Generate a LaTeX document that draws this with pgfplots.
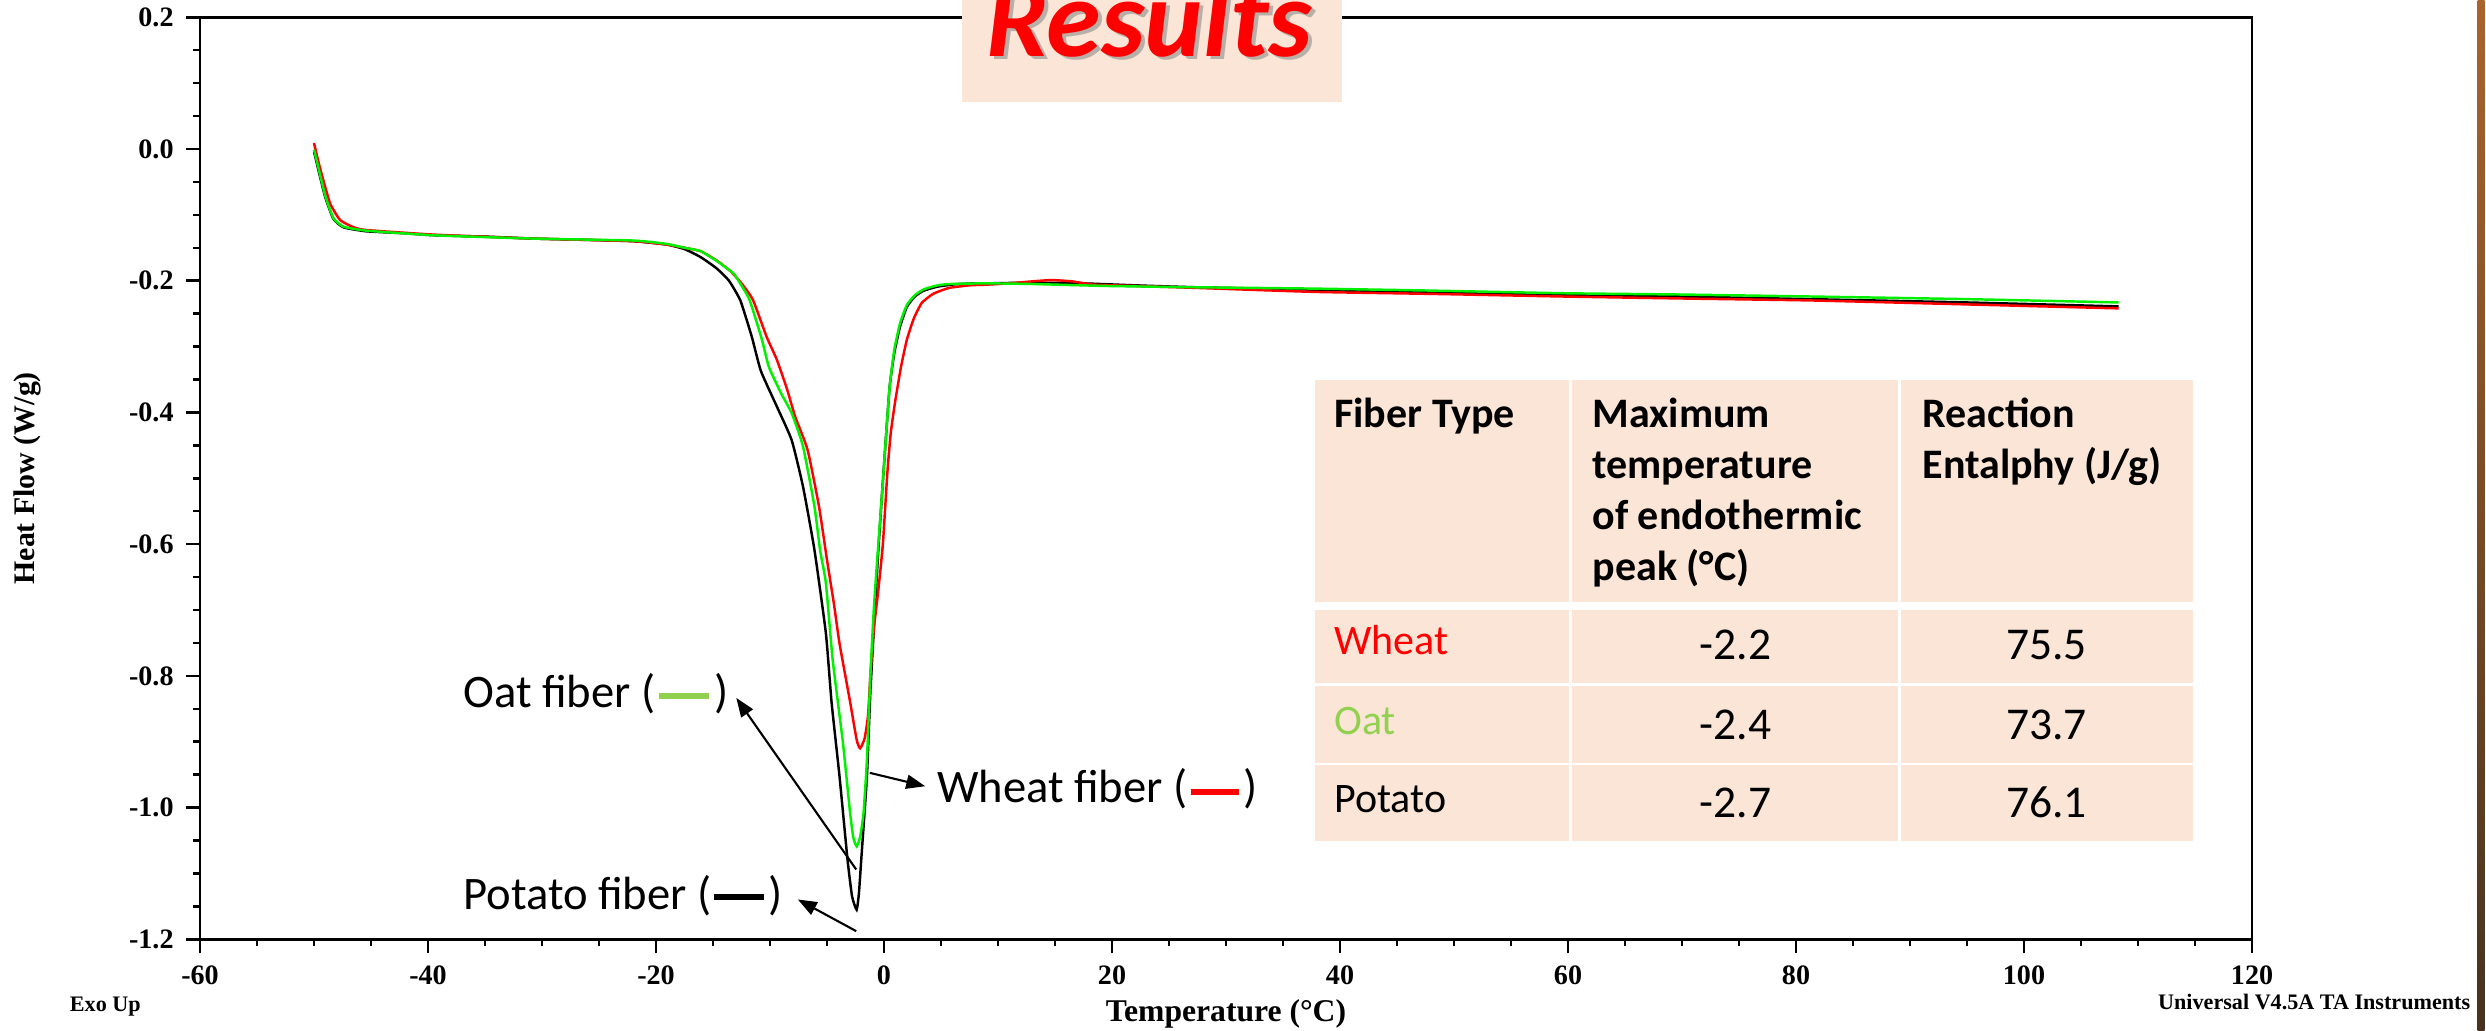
\documentclass[border=0pt]{standalone}
\usepackage{pgfplots}
\pgfplotsset{compat=1.18}
\usepackage{fontspec}
\setmainfont{Carlito}
\newfontfamily\axfont{Liberation Serif}
\usetikzlibrary{arrows.meta}
\definecolor{peach}{HTML}{FBE5D6}
\definecolor{oatg}{HTML}{92D050}
\definecolor{curveg}{HTML}{00F000}
\definecolor{curver}{HTML}{FF0000}
\begin{document}
\begin{tikzpicture}
\path[use as bounding box] (0,0) rectangle (24.86,10.31);
\begin{axis}[
  at={(2.00cm,0.917cm)}, anchor=south west,
  scale only axis, width=20.52cm, height=9.22cm,
  xmin=-60, xmax=120, ymin=-1.2, ymax=0.2,
  xtick={-60,-40,-20,0,20,40,60,80,100,120},
  xticklabels={-60,-40,-20,0,20,40,60,80,100,120},
  ytick={-1.2,-1,-0.8,-0.6,-0.4,-0.2,0,0.2},
  yticklabels={-1.2,-1.0,-0.8,-0.6,-0.4,-0.2,0.0,0.2},
  minor x tick num=3, minor y tick num=3,
  tick align=outside, tick pos=left,
  major tick length=0.14cm, minor tick length=0.07cm,
  axis line style={line width=0.7pt},
  every tick/.append style={black, line width=0.7pt},
  ticklabel style={font=\axfont\bfseries\fontsize{8}{9.5}\selectfont},
  xlabel={Temperature (°C)}, ylabel={Heat Flow (W/g)},
  xlabel style={font=\axfont\bfseries\fontsize{9}{11}\selectfont, at={(axis description cs:0.5,-0.0894)}, anchor=base},
  ylabel style={font=\axfont\bfseries\fontsize{8.5}{10}\selectfont, at={(axis description cs:-0.0843,0.5)}, anchor=center},
  clip=false,
]
% Potato fiber (black)
\addplot[black, line width=0.7pt, smooth, tension=0.3] coordinates {
(-50.0,-0.004) (-49.5,-0.040) (-49.0,-0.074) (-48.3,-0.106) (-47.4,-0.119) (-45.4,-0.125)
(-42,-0.128) (-39.5,-0.131) (-35,-0.133) (-30.8,-0.136) (-26,-0.138) (-22.0,-0.140)
(-19.1,-0.145) (-17.5,-0.152) (-16.1,-0.164) (-14.7,-0.181) (-13.6,-0.200) (-12.6,-0.230)
(-11.6,-0.285) (-10.8,-0.337) (-9.4,-0.391) (-8.1,-0.442) (-7.1,-0.513) (-6.1,-0.609)
(-5.1,-0.735) (-4.6,-0.840) (-3.9,-0.953) (-3.2,-1.079) (-2.8,-1.135) (-2.4,-1.155)
(-2.2,-1.130) (-2.0,-1.080) (-1.5,-0.953) (-1.2,-0.826) (-0.8,-0.700) (-0.5,-0.610)
(-0.2,-0.530) (0.2,-0.430) (0.5,-0.360) (0.9,-0.310) (1.4,-0.270) (2.0,-0.240)
(2.7,-0.224) (3.5,-0.215) (4.7,-0.209) (6.5,-0.205) (9,-0.204) (13,-0.203) (17.4,-0.204)
(22,-0.207) (27.5,-0.210) (36.2,-0.213) (45,-0.217) (59.6,-0.221) (70,-0.224)
(81.4,-0.228) (95,-0.233) (108.3,-0.239)
};
% Wheat fiber (red)
\addplot[curver, line width=0.7pt, smooth, tension=0.3] coordinates {
(-50.0,0.009) (-49.5,-0.027) (-48.6,-0.082) (-47.7,-0.108) (-46.5,-0.119) (-45.4,-0.123)
(-39.5,-0.130) (-30.8,-0.136) (-22.0,-0.140) (-19.1,-0.145) (-17.5,-0.150) (-16.1,-0.155)
(-14.7,-0.169) (-13.5,-0.185) (-12.5,-0.204) (-11.5,-0.229) (-10.3,-0.285) (-9.4,-0.320)
(-8.5,-0.365) (-7.8,-0.406) (-6.7,-0.457) (-5.7,-0.543) (-5.0,-0.624) (-4.4,-0.690)
(-3.9,-0.751) (-3.0,-0.837) (-2.4,-0.897) (-2.1,-0.910) (-1.7,-0.895) (-1.4,-0.860)
(-1.2,-0.800) (-0.9,-0.730) (-0.5,-0.670) (-0.1,-0.600) (0.3,-0.490) (0.6,-0.430)
(1.0,-0.381) (1.5,-0.330) (2.0,-0.290) (2.6,-0.258) (3.3,-0.234) (4.3,-0.220)
(5.7,-0.211) (7.5,-0.207) (9.0,-0.206) (11,-0.204) (13,-0.201) (14.7,-0.199)
(16.5,-0.201) (18.4,-0.206) (22,-0.208) (27.5,-0.211) (37.8,-0.217) (48,-0.220)
(59.6,-0.224) (70,-0.227) (81.4,-0.230) (95,-0.236) (108.3,-0.242)
};
% Oat fiber (green)
\addplot[curveg, line width=0.7pt, smooth, tension=0.3] coordinates {
(-50.0,-0.001) (-49.5,-0.037) (-49.0,-0.072) (-48.3,-0.105) (-47.4,-0.118) (-45.4,-0.124)
(-39.5,-0.131) (-30.8,-0.136) (-22.0,-0.139) (-19.1,-0.144) (-17.5,-0.150) (-16.1,-0.155)
(-14.5,-0.172) (-13.2,-0.189) (-12.8,-0.199) (-11.8,-0.229) (-10.7,-0.290) (-10.1,-0.331)
(-9.0,-0.372) (-8.1,-0.401) (-7.1,-0.452) (-6.1,-0.543) (-5.6,-0.610) (-5.1,-0.659)
(-4.5,-0.776) (-3.6,-0.902) (-3.0,-1.004) (-2.7,-1.045) (-2.4,-1.059) (-2.1,-1.045)
(-1.8,-1.009) (-1.5,-0.928) (-1.2,-0.801) (-0.9,-0.700) (-0.6,-0.624) (-0.2,-0.530)
(0.2,-0.430) (0.5,-0.360) (0.9,-0.305) (1.4,-0.265) (2.0,-0.237) (2.7,-0.222)
(3.5,-0.213) (4.7,-0.207) (5.8,-0.205) (9,-0.204) (13,-0.205) (19.6,-0.208)
(27.5,-0.210) (37.8,-0.212) (48,-0.215) (59.6,-0.219) (70,-0.221) (81.4,-0.224)
(95,-0.228) (108.3,-0.233)
};
\end{axis}
% ---- overlay in pixel units (origin top-left, y down) ----
\begin{scope}[x=0.01cm, y=-0.01cm, yshift=10.31cm]
  % right-edge photo strip
  \shade[top color={rgb,255:red,170;green,100;blue,45}, bottom color={rgb,255:red,70;green,50;blue,30}] (2479,0) rectangle (2486,1031);
  % title box
  \fill[peach] (962.3,-10) rectangle (1342.7,101.7);
  \node[anchor=base, text=black!45, opacity=0.6, font=\bfseries\itshape\fontsize{31.5}{36}\selectfont, inner sep=0] at (1154,60) {Results};
  \node[anchor=base, text=red, font=\bfseries\itshape\fontsize{31.5}{36}\selectfont, inner sep=0] at (1150,56.7) {Results};
  % annotations
  \node[anchor=base west, inner sep=0, font=\fontsize{13.26}{16}\selectfont] at (463,708)
     {Oat fiber (\kern0.03cm\textcolor{oatg}{\rule[0.09cm]{0.5cm}{0.055cm}}\kern0.06cm)};
  \node[anchor=base west, inner sep=0, font=\fontsize{13.26}{16}\selectfont] at (463,910)
     {Potato fiber (\kern0.02cm\textcolor{black}{\rule[0.09cm]{0.5cm}{0.06cm}}\kern0.05cm)};
  \node[anchor=base west, inner sep=0, font=\fontsize{13.26}{16}\selectfont] at (937,803)
     {Wheat fiber (\kern0.03cm\textcolor{curver}{\rule[0.08cm]{0.48cm}{0.06cm}}\kern0.05cm)};
  \draw[line width=0.6pt, -{Triangle[length=0.19cm,width=0.14cm]}] (856.7,870) -- (736.7,698.3);
  \draw[line width=0.6pt, -{Triangle[length=0.19cm,width=0.14cm]}] (856.7,931.7) -- (798.3,900);
  \draw[line width=0.6pt, -{Triangle[length=0.19cm,width=0.14cm]}] (870.3,773.3) -- (925.8,786.7);
  % table
  \fill[peach] (1316,380.7) rectangle (2194,841);
  \fill[white] (1570,380) rectangle (1573,842);
  \fill[white] (1899.5,380) rectangle (1902.5,842);
  \fill[white] (1315,602.3) rectangle (2195,610.7);
  \fill[white] (1315,683.5) rectangle (2195,686.5);
  \fill[white] (1315,763.5) rectangle (2195,765.8);
  \begin{scope}[every node/.style={inner sep=0, anchor=base west, font=\bfseries\fontsize{11.95}{14}\selectfont}]
    \node at (1334.4,428) {Fiber Type};
    \node at (1592.8,428) {Maximum};
    \node at (1592.8,479) {temperature};
    \node at (1592.8,530) {of endothermic};
    \node at (1592.8,581) {peak (°C)};
    \node at (1922.9,428) {Reaction};
    \node at (1922.9,479) {Entalphy (J/g)};
  \end{scope}
  \begin{scope}[every node/.style={inner sep=0, anchor=base west, font=\fontsize{11.95}{14}\selectfont}]
    \node[text=curver] at (1334.4,655) {Wheat};
    \node[text=oatg] at (1334.4,735) {Oat};
    \node at (1334.4,813.3) {Potato};
  \end{scope}
  \begin{scope}[every node/.style={inner sep=0, anchor=base, font=\fontsize{12.95}{15}\selectfont}]
    \node at (1736.5,660) {-2.2};
    \node at (1736.5,740) {-2.4};
    \node at (1736.5,818.3) {-2.7};
    \node at (2047.5,660) {75.5};
    \node at (2047.5,740) {73.7};
    \node at (2047.5,818.3) {76.1};
  \end{scope}
  % instrument footer texts
  \node[anchor=base west, inner sep=0, font=\axfont\bfseries\fontsize{6.3}{7.5}\selectfont] at (69.3,1011.7) {Exo Up};
  \node[anchor=base west, inner sep=0, font=\axfont\bfseries\fontsize{6.3}{7.5}\selectfont] at (2158.7,1010) {Universal V4.5A TA Instruments};
\end{scope}
\end{tikzpicture}
\end{document}
